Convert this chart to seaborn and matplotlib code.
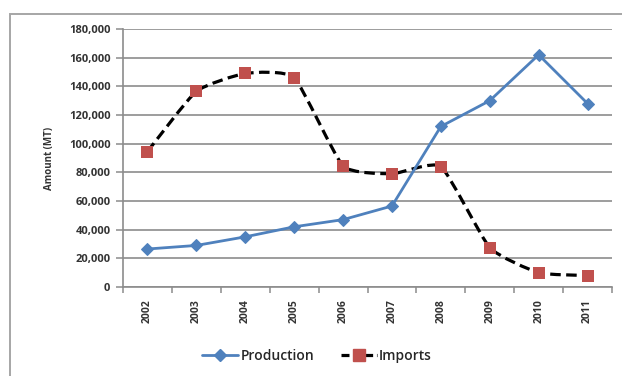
import matplotlib
matplotlib.use("Agg")
import matplotlib.pyplot as plt
from matplotlib.path import Path
from matplotlib.patches import PathPatch, Rectangle
from matplotlib.lines import Line2D
from matplotlib.ticker import FuncFormatter, MultipleLocator, FixedLocator
import numpy as np
import pandas as pd
import seaborn as sns

years = ["2002", "2003", "2004", "2005", "2006", "2007", "2008", "2009", "2010", "2011"]
production = [26500, 29000, 35000, 42000, 47000, 56500, 112000, 130000, 162000, 128000]
imports = [94500, 136500, 149000, 146000, 84500, 79000, 84000, 27500, 10000, 8000]

blue = "#4F81BD"
red = "#C0504D"
grid_grey = "#8C8C8C"
text_col = "#333333"

sns.set_theme(style="white")
plt.rcParams["font.family"] = ["Open Sans", "DejaVu Sans"]

df = pd.DataFrame({"x": np.arange(len(years)), "Production": production, "Imports": imports})

fig = plt.figure(figsize=(6.22, 3.76), dpi=100)
ax = fig.add_axes([123 / 622, 1 - 287 / 376, (612 - 123) / 622, (287 - 29) / 376])

# outer chart frame
fig.patches.append(Rectangle((10 / 622, -0.02), 1.1, 0.02 + 1 - 14 / 376,
                             transform=fig.transFigure, fill=False,
                             edgecolor="#A6A6A6", linewidth=1.4, zorder=0))

# production: straight line with diamond markers
sns.lineplot(data=df, x="x", y="Production", ax=ax, color=blue, linewidth=2.0,
             marker="D", markersize=6.5, markeredgecolor=blue, zorder=4)

# imports: smoothed dashed curve (cubic Bezier through the points)
tension = 1 / 12.0
pts = np.column_stack([df["x"].to_numpy(float), df["Imports"].to_numpy(float)])
n = len(pts)
verts = [tuple(pts[0])]
codes = [Path.MOVETO]
for i in range(n - 1):
    p0 = pts[i - 1] if i > 0 else pts[i]
    p1 = pts[i]
    p2 = pts[i + 1]
    p3 = pts[i + 2] if i + 2 < n else pts[i + 1]
    c1 = p1 + (p2 - p0) * tension
    c2 = p2 - (p3 - p1) * tension
    verts += [tuple(c1), tuple(c2), tuple(p2)]
    codes += [Path.CURVE4, Path.CURVE4, Path.CURVE4]
curve = PathPatch(Path(verts, codes), fill=False, edgecolor="black", linewidth=2.3,
                  linestyle=(0, (3.3, 1.7)), zorder=3, capstyle="butt")
ax.add_patch(curve)
sns.scatterplot(data=df, x="x", y="Imports", ax=ax, marker="s", s=72, color=red,
                edgecolor=red, linewidth=0, zorder=5)

ax.set_xlim(-0.5, len(years) - 0.5)
ax.set_ylim(0, 180000)
ax.yaxis.set_major_locator(MultipleLocator(20000))
ax.yaxis.set_major_formatter(FuncFormatter(lambda v, p: f"{int(v):,}"))
ax.set_xticks(np.arange(len(years)))
ax.set_xticklabels(years, rotation=90, fontsize=7.5, fontweight="bold", color=text_col)
ax.xaxis.set_minor_locator(FixedLocator(np.arange(-0.5, len(years), 1.0)))
ax.tick_params(axis="x", which="major", length=0, pad=9)
ax.tick_params(axis="x", which="minor", length=4, width=1.1, color=grid_grey, bottom=True)
ax.tick_params(axis="y", which="major", length=5, width=1.1, color=grid_grey, left=True,
               labelsize=8, pad=4)
for lab in ax.get_yticklabels():
    lab.set_fontweight("bold")
    lab.set_color(text_col)

ax.grid(axis="y", color=grid_grey, linewidth=1.2)
ax.set_axisbelow(True)
for side in ["top", "right"]:
    ax.spines[side].set_visible(False)
for side in ["left", "bottom"]:
    ax.spines[side].set_color(grid_grey)
    ax.spines[side].set_linewidth(1.2)

ax.set_xlabel("")
ax.set_ylabel("Amount (MT)", fontsize=7, fontweight="bold", color=text_col, labelpad=10)

handles = [
    Line2D([], [], color=blue, linewidth=2.0, marker="D", markersize=6.5, markeredgecolor=blue),
    Line2D([], [], color="black", linewidth=2.3, linestyle=(0, (2.5, 1.2)), marker="s",
           markersize=8, markerfacecolor=red, markeredgecolor=red),
]
fig.legend(handles, ["Production", "Imports"], loc="center", bbox_to_anchor=(317 / 622, 1 - 356 / 376),
           ncol=2, frameon=False, handlelength=2.6, handletextpad=0.15,
           columnspacing=1.9, prop={"weight": "semibold", "size": 10})

fig.savefig("out.png", dpi=100)
